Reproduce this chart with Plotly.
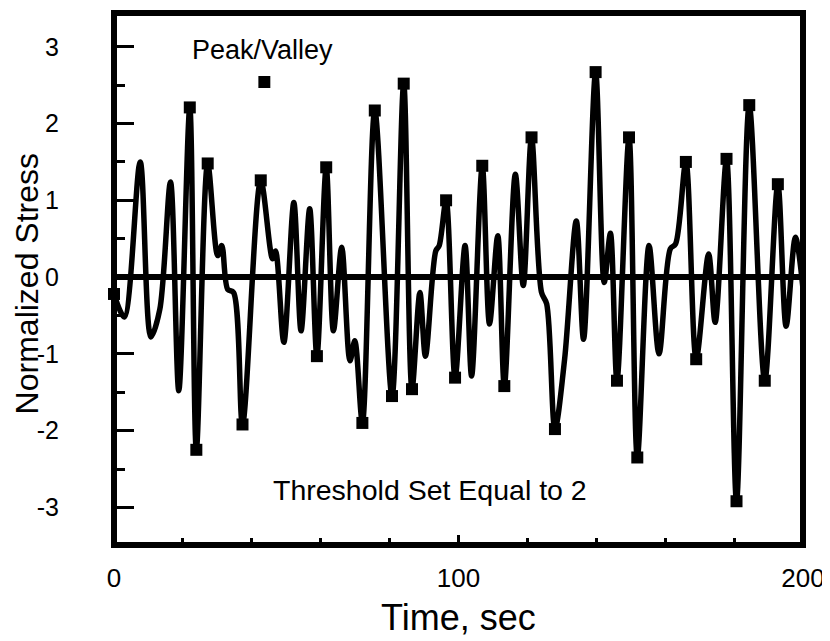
import numpy as np
import plotly.graph_objects as go

# ---- data ----
time_s = [0.0, 3.0, 7.6, 10.7, 13.3, 16.4, 18.8, 22.0, 23.9, 27.2,
          30.1, 31.3, 33.0, 34.7, 37.3, 42.6, 46.0, 46.9, 49.3, 52.2,
          54.3, 56.8, 58.9, 61.6, 63.7, 66.1, 68.5, 69.9, 72.1, 75.7,
          80.7, 84.1, 86.5, 88.8, 90.4, 93.4, 94.4, 96.4, 99.0, 101.9,
          103.8, 106.9, 109.0, 111.4, 113.3, 116.5, 118.8, 121.2, 124.1, 125.6,
          128.0, 130.8, 134.2, 136.3, 139.8, 142.3, 144.1, 146.0, 149.5, 151.9,
          155.3, 158.2, 161.5, 163.0, 166.0, 169.0, 172.6, 174.5, 177.8, 180.7,
          184.4, 188.9, 192.7, 195.1, 197.8, 200.0]
stress = [-0.22, -0.52, 1.50, -0.78, -0.42, 1.24, -1.48, 2.21, -2.25, 1.48,
          0.28, 0.41, -0.16, -0.20, -1.92, 1.26, 0.24, 0.34, -0.85, 0.97,
          -0.70, 0.89, -1.03, 1.43, -0.70, 0.39, -1.09, -0.83, -1.90, 2.17,
          -1.55, 2.52, -1.46, -0.20, -1.03, 0.34, 0.41, 1.00, -1.31, 0.41,
          -1.29, 1.45, -0.61, 0.54, -1.42, 1.34, -0.11, 1.82, -0.20, -0.35,
          -1.98, -1.07, 0.73, -0.81, 2.67, -0.07, 0.57, -1.35, 1.82, -2.35,
          0.41, -1.00, 0.37, 0.43, 1.50, -1.07, 0.30, -0.59, 1.54, -2.92,
          2.24, -1.35, 1.21, -0.64, 0.52, -0.15]

# peak/valley points kept after the range threshold
pv_time = [0.0, 22.0, 23.9, 27.2, 37.3, 42.6, 58.9, 61.6, 72.1, 75.7,
           80.7, 84.1, 86.5, 96.4, 99.0, 106.9, 113.3, 121.2, 128.0, 139.8,
           146.0, 149.5, 151.9, 166.0, 169.0, 177.8, 180.7, 184.4, 188.9, 192.7]
pv_stress = [-0.22, 2.21, -2.25, 1.48, -1.92, 1.26, -1.03, 1.43, -1.90, 2.17,
             -1.55, 2.52, -1.46, 1.00, -1.31, 1.45, -1.42, 1.82, -1.98, 2.67,
             -1.35, 1.82, -2.35, 1.50, -1.07, 1.54, -2.92, 2.24, -1.35, 1.21]

y_tick_vals = [-3, -2, -1, 0, 1, 2, 3]
y_tick_text = ["-3", "-2", "-1", "0", "1", "2", "3"]
x_tick_vals = [0, 100, 200]
x_tick_text = ["0", "100", "200"]
y_minor_vals = [-2.5, -1.5, -0.5, 0.5, 1.5, 2.5]
x_minor_vals = [20, 40, 60, 80, 120, 140, 160, 180]

# ---- layout geometry (screen pixels of the reference; page body has an 8px margin) ----
OFF = 8
W, H = 830 - OFF, 641 - OFF
L, R, T, B = 114 - OFF, 806 - OFF, 13 - OFF, 545 - OFF
FONT = "Liberation Sans, Arial, Helvetica, sans-serif"


def px(xs):
    return (xs - OFF - L) / (R - L)


def py(ys):
    return (B - (ys - OFF)) / (B - T)


fig = go.Figure()
fig.add_trace(go.Scatter(
    x=time_s, y=stress, mode="lines",
    line=dict(color="black", width=5.5, shape="spline", smoothing=0.9),
    showlegend=False, hoverinfo="skip"))
fig.add_trace(go.Scatter(
    x=pv_time, y=pv_stress, mode="markers",
    marker=dict(symbol="square", size=12, color="black"),
    cliponaxis=False, showlegend=False, name="Peak/Valley"))

fig.update_layout(
    width=W, height=H, autosize=False,
    margin=dict(l=L, r=W - R, t=T, b=H - B, pad=0),
    paper_bgcolor="white", plot_bgcolor="white",
    font=dict(family=FONT, color="black"),
    showlegend=False,
    xaxis=dict(range=[0, 200], showgrid=False, zeroline=False, showline=False,
               tickmode="array", tickvals=x_tick_vals, ticktext=x_tick_text,
               ticks="inside", ticklen=10, tickwidth=3, tickcolor="black",
               ticklabelstandoff=15,
               tickfont=dict(size=26, family=FONT, color="black"),
               minor=dict(tickmode="array", tickvals=x_minor_vals, ticks="inside",
                          ticklen=7, tickwidth=3, tickcolor="black", showgrid=False)),
    yaxis=dict(range=[-3.49, 3.44], showgrid=False, showline=False,
               zeroline=True, zerolinewidth=6, zerolinecolor="black",
               tickmode="array", tickvals=y_tick_vals, ticktext=y_tick_text,
               ticks="inside", ticklen=20, tickwidth=3, tickcolor="black",
               ticklabelstandoff=54,
               tickfont=dict(size=25, family=FONT, color="black"),
               minor=dict(tickmode="array", tickvals=y_minor_vals, ticks="inside",
                          ticklen=11, tickwidth=3, tickcolor="black", showgrid=False)),
    shapes=[
        dict(type="rect", xref="paper", yref="paper", x0=0, x1=1, y0=0, y1=1,
             line=dict(color="black", width=6), fillcolor="rgba(0,0,0,0)", layer="above"),
        dict(type="rect", xref="paper", yref="paper",
             x0=px(259), x1=px(271), y0=py(88), y1=py(76),
             line=dict(width=0), fillcolor="black", layer="above"),
    ],
    annotations=[
        dict(text="Time, sec", xref="paper", yref="paper", x=0.5, y=py(617),
             xanchor="center", yanchor="middle", showarrow=False,
             font=dict(size=36, family=FONT, color="black")),
        dict(text="Normalized Stress", xref="paper", yref="paper", x=px(27), y=py(284),
             xanchor="center", yanchor="middle", textangle=-90, showarrow=False,
             font=dict(size=32, family=FONT, color="black")),
        dict(text="Peak/Valley", xref="paper", yref="paper", x=px(263), y=py(50),
             xanchor="center", yanchor="middle", showarrow=False,
             font=dict(size=27, family=FONT, color="black")),
        dict(text="Threshold Set Equal to 2", xref="paper", yref="paper",
             x=px(431), y=py(490), xanchor="center", yanchor="middle", showarrow=False,
             font=dict(size=28.5, family=FONT, color="black")),
    ],
)

fig.write_html("out.html")
